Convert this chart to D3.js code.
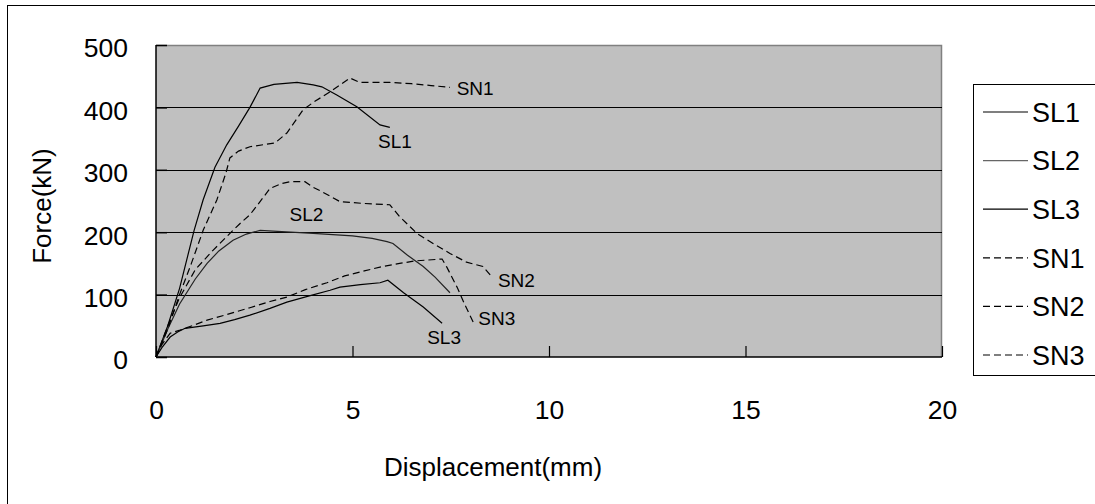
<!DOCTYPE html>
<html><head><meta charset="utf-8">
<script src="https://cdn.jsdelivr.net/npm/d3@7/dist/d3.min.js"></script>
<style>
body{margin:0;background:#fff;}
svg{display:block;font-family:"Liberation Sans",Arial,sans-serif;}
</style></head><body>
<svg id="c" width="1095" height="504"></svg>
<script>
// ---- data (displacement mm, force kN) ----
const seriesNames = ["SL1","SL2","SL3","SN1","SN2","SN3"];
const SL1 = [[0,0],[0.3,50],[0.6,110],[0.97,203],[1.2,252],[1.5,304],[1.8,340],[2.1,370],[2.39,400],[2.65,431],[3.0,437],[3.59,440],[4.0,436],[4.22,433],[4.6,420],[5.11,401],[5.7,372],[5.95,368]];
const SL2 = [[0,0],[0.3,45],[0.6,85],[1.0,125],[1.3,150],[1.6,170],[1.96,187],[2.3,197],[2.65,203],[3.2,201],[4.0,198],[5.0,194],[5.5,190],[5.88,185],[6.03,182],[6.4,163],[6.8,145],[7.1,128],[7.48,103]];
const SL3 = [[0,0],[0.15,15],[0.36,32],[0.55,40],[0.74,46],[1.2,50],[1.63,54],[2.0,60],[2.39,67],[2.9,78],[3.33,88],[3.9,98],[4.43,107],[4.68,112],[5.2,116],[5.7,119],[5.9,123],[6.3,103],[6.8,80],[7.28,54]];
const SN1 = [[0,0],[0.3,45],[0.6,100],[0.9,150],[1.2,203],[1.55,252],[1.78,295],[1.88,319],[2.1,330],[2.39,337],[3.03,343],[3.33,359],[3.74,396],[4.0,408],[4.43,425],[4.94,447],[5.19,440],[5.95,440],[6.5,438],[7.0,435],[7.48,432]];
const SN2 = [[0,0],[0.3,50],[0.6,95],[1.0,140],[1.45,171],[1.96,203],[2.14,214],[2.39,228],[2.6,245],[2.9,270],[3.2,278],[3.41,281],[3.79,281],[4.0,272],[4.22,265],[4.68,249],[5.3,246],[5.95,244],[6.2,225],[6.64,198],[7.05,182],[7.48,166],[7.9,152],[8.32,145],[8.55,128]];
const SN3 = [[0,0],[0.15,20],[0.36,38],[0.61,43],[1.0,52],[1.3,59],[1.8,68],[2.39,79],[2.9,89],[3.33,96],[3.8,108],[4.35,119],[4.8,130],[5.3,138],[5.7,144],[6.2,150],[6.6,154],[7.28,157],[7.4,144],[7.66,112],[7.85,85],[8.07,56]];
const xTicks = [0,5,10,15,20];
const yTicks = [0,100,200,300,400,500];
// in-plot labels: [name, x(mm), force(kN)]
const curveLabels = [["SN1",7.65,430],["SL1",5.65,346],["SL2",3.4,228],["SN2",8.7,123],["SN3",8.2,62],["SL3",6.9,32]];

const svg = d3.select("#c");
const L=156,R=942,T=45,B=357;
const x = d3.scaleLinear().domain([0,20]).range([L,R]);
const y = d3.scaleLinear().domain([0,500]).range([B,T]);
const FF = "Liberation Sans, Arial, sans-serif";

// outer border
svg.append("rect").attr("x",7.5).attr("y",5.5).attr("width",1100).attr("height",510)
  .attr("fill","#fff").attr("stroke","#000").attr("stroke-width",1);

// plot area
svg.append("rect").attr("x",L).attr("y",T).attr("width",R-L).attr("height",B-T).attr("fill","#c0c0c0");
svg.append("path").attr("d",`M${L},${T+0.5}H${R-0.5}V${B}`).attr("fill","none").attr("stroke","#808080").attr("stroke-width",1.5);

// gridlines
svg.append("g").selectAll("line").data(yTicks.filter(d=>d>0&&d<500)).join("line")
  .attr("x1",L).attr("x2",R).attr("y1",d=>Math.round(y(d))+0.5).attr("y2",d=>Math.round(y(d))+0.5)
  .attr("stroke","#000").attr("stroke-width",1);

// axes with inside ticks
const xAxis = d3.axisBottom(x).tickValues(xTicks).tickSize(-11).tickPadding(43).tickFormat(d3.format("d"));
const gx = svg.append("g").attr("transform",`translate(0,${B})`).call(xAxis);
gx.select(".domain").attr("stroke","#000").attr("stroke-width",1.5).attr("d",`M${L},0H${R}`);
gx.selectAll(".tick line").attr("stroke","#000").attr("stroke-width",1.2);
gx.selectAll("text").attr("font-size",26.5).attr("fill","#000").attr("font-family",FF);

const yAxis = d3.axisLeft(y).tickValues(yTicks).tickSize(-11).tickPadding(28);
const gy = svg.append("g").attr("transform",`translate(${L},0)`).call(yAxis);
gy.select(".domain").attr("stroke","#000").attr("stroke-width",1.5).attr("d",`M0,${T}V${B}`);
gy.selectAll(".tick line").attr("stroke","#000").attr("stroke-width",1.5);
gy.selectAll("text").attr("font-size",26.5).attr("fill","#000").attr("dy","0.45em").attr("font-family",FF);

// lines
const seriesData = {SL1,SL2,SL3,SN1,SN2,SN3};
const line = d3.line().x(d=>x(d[0])).y(d=>y(d[1])).curve(d3.curveLinear);
const dash = name => name.startsWith("SN") ? "7,4" : null;
seriesNames.forEach(n=>{
  svg.append("path").datum(seriesData[n]).attr("d",line).attr("fill","none")
    .attr("stroke",n==="SL2"?"#222":"#000").attr("stroke-width",1.2).attr("stroke-dasharray",dash(n));
});

// curve labels
svg.append("g").selectAll("text").data(curveLabels).join("text")
  .attr("x",d=>x(d[1])).attr("y",d=>y(d[2])).attr("font-size",19).attr("fill","#000")
  .attr("dy","0.35em").text(d=>d[0]);

// axis titles
svg.append("text").attr("x",493).attr("y",476).attr("text-anchor","middle")
  .attr("font-size",26).text("Displacement(mm)");
svg.append("text").attr("transform",`translate(51,${(T+B)/2+5}) rotate(-90)`).attr("text-anchor","middle")
  .attr("font-size",26).text("Force(kN)");

// legend
const lg = svg.append("g");
lg.append("rect").attr("x",973.5).attr("y",84.5).attr("width",130).attr("height",291)
  .attr("fill","#fff").attr("stroke","#000").attr("stroke-width",1);
const legY = d3.scalePoint().domain(seriesNames).range([112,355]);
seriesNames.forEach(n=>{
  lg.append("line").attr("x1",983).attr("x2",1028).attr("y1",legY(n)).attr("y2",legY(n))
    .attr("stroke",n==="SL2"?"#666":"#000").attr("stroke-width",1.2).attr("stroke-dasharray",n.startsWith("SN")?"7,4":null);
  lg.append("text").attr("x",1032).attr("y",legY(n)).attr("dy","0.36em").attr("font-size",27).text(n);
});
</script>
</body></html>
